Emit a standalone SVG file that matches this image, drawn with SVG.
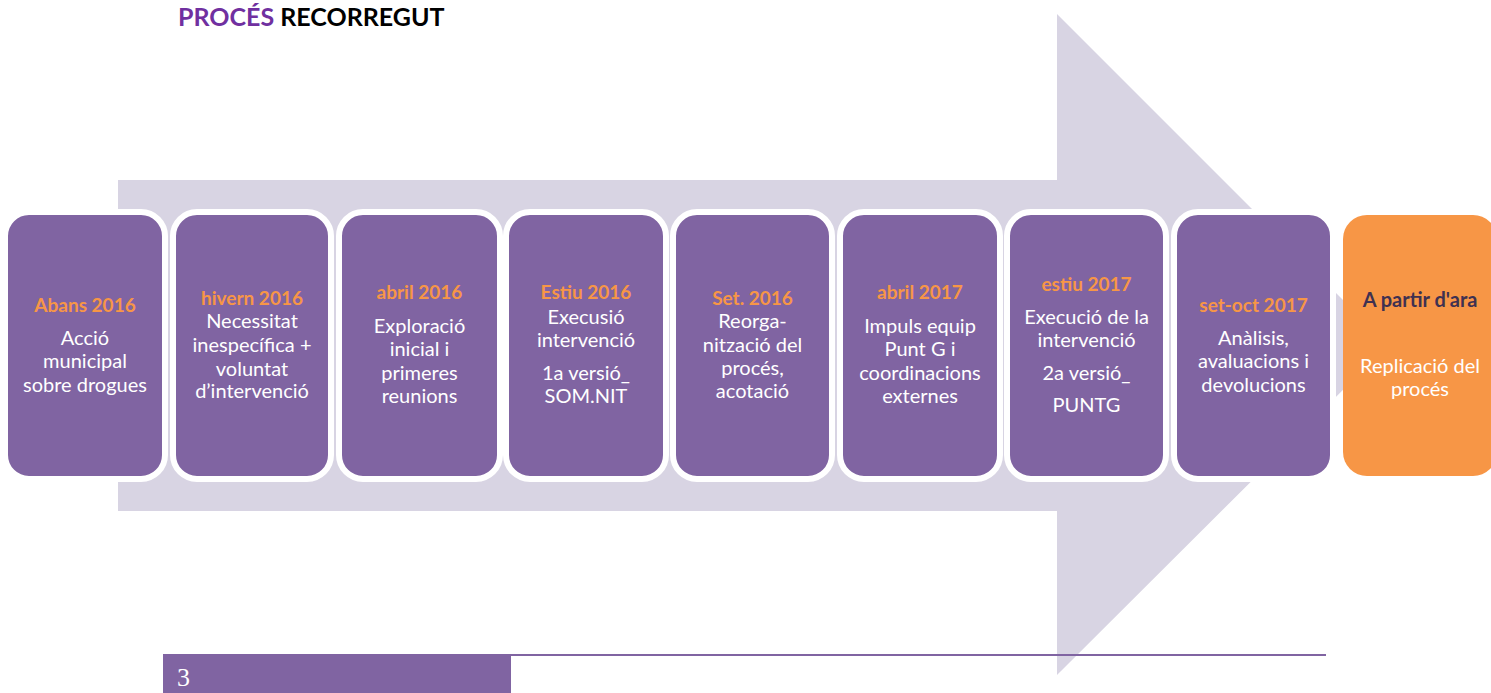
<svg xmlns="http://www.w3.org/2000/svg" width="1491" height="693" viewBox="0 0 1491 693">
<style>
.box{fill:#8064A2;stroke:#fff;stroke-width:6}
.obox{fill:#F79646}
.t{font-family:Lato,"Open Sans","Liberation Sans",sans-serif;font-size:20px;fill:#fff;text-anchor:middle}
.d{font-weight:bold;fill:#F79646;font-size:19px}
.h{font-family:Lato,"Open Sans","Liberation Sans",sans-serif;font-size:25px;font-weight:bold}
</style>
<rect width="1491" height="693" fill="#fff"/>
<g id="arrow">
<polygon points="118,180 1057,180 1057,14 1388,345 1057,675 1057,511 118,511" fill="#D8D4E3"/>
</g>
<g id="title">
<text class="h" x="178" y="26"><tspan fill="#7030A0">PROCÉS</tspan><tspan fill="#000"> RECORREGUT</tspan></text>
</g>
<g id="connectors"></g>
<g id="n1">
<rect class="box" x="5" y="212" width="160" height="267" rx="24"/>
<text class="t d" x="85" y="312">Abans 2016</text>
<text class="t" x="85" y="345">Acció</text>
<text class="t" x="85" y="368">municipal</text>
<text class="t" x="85" y="392">sobre drogues</text>
</g>
<g id="n2">
<rect class="box" x="173" y="212" width="158" height="267" rx="24"/>
<text class="t d" x="252" y="305">hivern 2016</text>
<text class="t" x="252" y="328">Necessitat</text>
<text class="t" x="252" y="352">inespecífica +</text>
<text class="t" x="252" y="376">voluntat</text>
<text class="t" x="252" y="398">d’intervenció</text>
</g>
<g id="n3">
<rect class="box" x="339" y="212" width="161" height="267" rx="24"/>
<text class="t d" x="419.5" y="299">abril 2016</text>
<text class="t" x="419.5" y="333">Exploració</text>
<text class="t" x="419.5" y="356">inicial i</text>
<text class="t" x="419.5" y="380">primeres</text>
<text class="t" x="419.5" y="403">reunions</text>
</g>
<g id="n4">
<rect class="box" x="506" y="212" width="160" height="267" rx="24"/>
<text class="t d" x="586" y="299">Estiu 2016</text>
<text class="t" x="586" y="324">Execusió</text>
<text class="t" x="586" y="347">intervenció</text>
<text class="t" x="586" y="380">1a versió_</text>
<text class="t" x="586" y="403">SOM.NIT</text>
</g>
<g id="n5">
<rect class="box" x="673" y="212" width="159" height="267" rx="24"/>
<text class="t d" x="752.5" y="305">Set. 2016</text>
<text class="t" x="752.5" y="328">Reorga-</text>
<text class="t" x="752.5" y="352">nització del</text>
<text class="t" x="752.5" y="375">procés,</text>
<text class="t" x="752.5" y="398">acotació</text>
</g>
<g id="n6">
<rect class="box" x="840" y="212" width="160" height="267" rx="24"/>
<text class="t d" x="920" y="299">abril 2017</text>
<text class="t" x="920" y="333">Impuls equip</text>
<text class="t" x="920" y="356">Punt G i</text>
<text class="t" x="920" y="380">coordinacions</text>
<text class="t" x="920" y="403">externes</text>
</g>
<g id="n7">
<rect class="box" x="1007" y="212" width="159" height="267" rx="24"/>
<text class="t d" x="1086.5" y="291">estiu 2017</text>
<text class="t" x="1086.5" y="324">Execució de la</text>
<text class="t" x="1086.5" y="347">intervenció</text>
<text class="t" x="1086.5" y="380">2a versió_</text>
<text class="t" x="1086.5" y="412">PUNTG</text>
</g>
<g id="n8">
<rect class="box" x="1174" y="212" width="159" height="267" rx="24"/>
<text class="t d" x="1253.5" y="312">set-oct 2017</text>
<text class="t" x="1253.5" y="345">Anàlisis,</text>
<text class="t" x="1253.5" y="368">avaluacions i</text>
<text class="t" x="1253.5" y="392">devolucions</text>
</g>
<g id="n9">
<rect class="obox" x="1343" y="215" width="154" height="261" rx="24"/>
<text class="t" x="1420" y="307" style="fill:#3F3151;font-weight:bold">A partir d'ara</text>
<text class="t" x="1420" y="373">Replicació del</text>
<text class="t" x="1420" y="396">procés</text>
</g>
<g id="footer">
<line x1="163" y1="655" x2="1326" y2="655" stroke="#8064A2" stroke-width="2"/>
<rect x="163" y="655" width="348" height="38" fill="#8064A2"/>
<text x="177" y="686" font-family="Liberation Serif,serif" font-size="26" fill="#fff">3</text>
</g>
</svg>
